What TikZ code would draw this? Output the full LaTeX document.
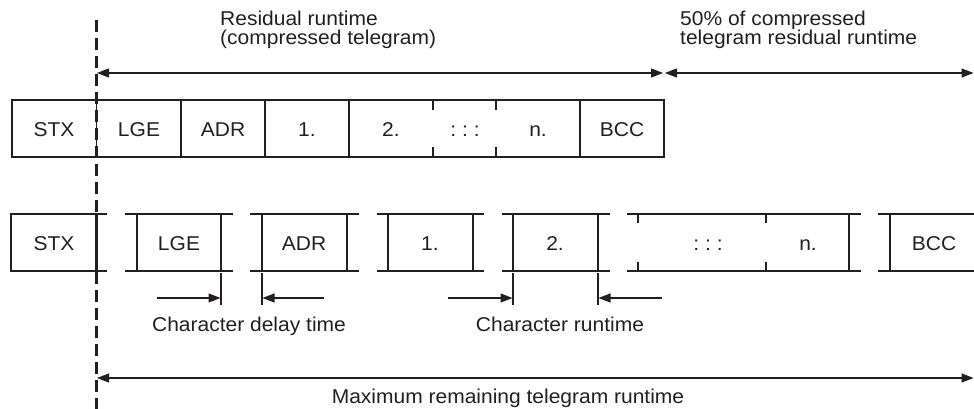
\documentclass[tikz,border=0pt]{standalone}
\usepackage{fontspec}
\setmainfont{Liberation Sans}[FakeStretch=1.05]
\usetikzlibrary{arrows.meta}
\definecolor{ink}{HTML}{231F20}
\begin{document}
\begin{tikzpicture}[x=1pt,y=-1pt,
  txt/.style={inner sep=0pt, anchor=base, text=ink, font=\fontsize{20}{21}\selectfont},
  txtl/.style={txt, anchor=base west},
  thinline/.style={draw=ink, line width=1.1pt},
  thickline/.style={draw=ink, line width=2.2pt},
  dashline/.style={draw=ink, line width=2.6pt, dash pattern=on 12pt off 6pt},
  tip/.tip={Triangle[length=12pt,width=9pt]},
  dimarrow/.style={draw=ink, line width=1.1pt, tip-tip},
  onearrow/.style={draw=ink, line width=1.1pt, -tip},
  ]
\useasboundingbox (0,0) rectangle (974,409);

% ---------- top labels ----------
\node[txtl] (res1) at (220,26) {Residual runtime};
\node[txtl] (res2) at (220,45) {(compressed telegram)};
\node[txtl] (half1) at (680,26) {50\% of compressed};
\node[txtl] (half2) at (680,45) {telegram residual runtime};

% ---------- top dimension arrows ----------
\coordinate (a1) at (97,73);
\coordinate (a2) at (663,73);
\coordinate (a3) at (665,73);
\coordinate (a4) at (973.5,73);
\draw[dimarrow] (a1) -- (a2);
\draw[dimarrow] (a3) -- (a4);

% ---------- compressed telegram (top row) ----------
\draw[thinline] (12,100) rectangle (664,157);
\foreach \x in {96.5,181,265,349,580} \draw[thinline] (\x,100) -- (\x,157);
\foreach \x in {433,496} {
  \draw[thinline] (\x,100) -- (\x,110);
  \draw[thinline] (\x,147) -- (\x,157);
}
\node[txt] (tstx) at (54,136) {STX};
\node[txt] (tlge) at (139,136) {LGE};
\node[txt] (tadr) at (223,136) {ADR};
\node[txt] (tone) at (307,136) {1.};
\node[txt] (ttwo) at (391,136) {2.};
\node[txt] (tdots) at (465,136) {:~:~:};
\node[txt] (tn) at (538,136) {n.};
\node[txt] (tbcc) at (622,136) {BCC};

% ---------- real telegram (bottom row) ----------
\draw[thinline] (107,214) -- (11,214) -- (11,271) -- (107,271);
\draw[thickline] (96.5,214) -- (96.5,271);
\foreach \s/\l/\r/\e in {125/137/221/233, 250/262/347/359, 377/388/473/484, 502/513/598/610} {
  \draw[thinline] (\s,214) -- (\e,214);
  \draw[thinline] (\s,271) -- (\e,271);
  \draw[thickline] (\l,214) -- (\l,271);
  \draw[thickline] (\r,214) -- (\r,271);
}
\draw[thinline] (627,214) -- (861,214);
\draw[thinline] (627,271) -- (861,271);
\draw[thickline] (638,214) -- (638,223);
\draw[thickline] (638,262) -- (638,271);
\draw[thinline] (766,214) -- (766,223);
\draw[thinline] (766,262) -- (766,271);
\draw[thickline] (849,214) -- (849,271);
\draw[thinline] (878,214) -- (974,214);
\draw[thinline] (878,271) -- (974,271);
\draw[thickline] (890,214) -- (890,271);

\node[txt] (bstx) at (54,250) {STX};
\node[txt] (blge) at (179,250) {LGE};
\node[txt] (badr) at (304,250) {ADR};
\node[txt] (bone) at (430,250) {1.};
\node[txt] (btwo) at (555,250) {2.};
\node[txt] (bdots) at (708,250) {:~:~:};
\node[txt] (bn) at (808,250) {n.};
\node[txt] (bbcc) at (934,250) {BCC};

% ---------- character delay / runtime markers ----------
\foreach \x in {221,262,513,598} \draw[thinline] (\x,273) -- (\x,305);
\coordinate (cd1s) at (157,298);
\coordinate (cd1e) at (220.5,298);
\coordinate (cd2s) at (324,298);
\coordinate (cd2e) at (262.5,298);
\coordinate (cr1s) at (448,298);
\coordinate (cr1e) at (512.5,298);
\coordinate (cr2s) at (662,298);
\coordinate (cr2e) at (598.5,298);
\draw[onearrow] (cd1s) -- (cd1e);
\draw[onearrow] (cd2s) -- (cd2e);
\draw[onearrow] (cr1s) -- (cr1e);
\draw[onearrow] (cr2s) -- (cr2e);
\node[txt] (cdelay) at (249,331) {Character delay time};
\node[txt] (crun) at (560,331) {Character runtime};

% ---------- maximum remaining runtime ----------
\coordinate (m1) at (97,378);
\coordinate (m2) at (973.5,378);
\draw[dimarrow] (m1) -- (m2);
\node[txt] (maxrt) at (508,403) {Maximum remaining telegram runtime};

% ---------- reference line ----------
\coordinate (dtop) at (96.5,20);
\coordinate (dbot) at (96.5,409);
\draw[dashline] (dtop) -- (dbot);
\end{tikzpicture}
\end{document}
